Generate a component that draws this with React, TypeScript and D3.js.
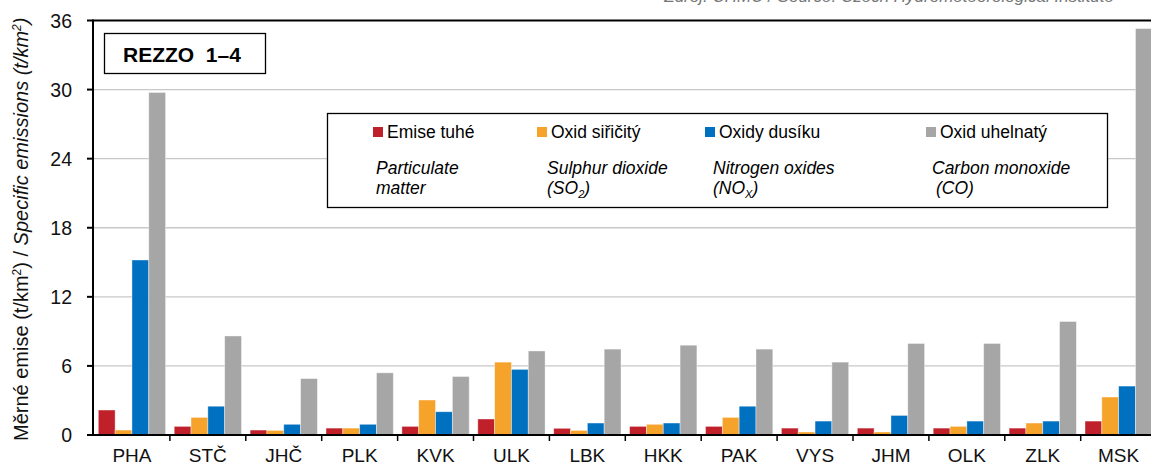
import React from 'react';
import * as d3 from 'd3';

const regions = ['PHA', 'STČ', 'JHČ', 'PLK', 'KVK', 'ULK', 'LBK', 'HKK', 'PAK', 'VYS', 'JHM', 'OLK', 'ZLK', 'MSK'];
const seriesKeys = ['tzl', 'so2', 'nox', 'co'];
const seriesNames = ['Emise tuhé', 'Oxid siřičitý', 'Oxidy dusíku', 'Oxid uhelnatý'];
const seriesColors = ['#C0202A', '#F5A32A', '#0070C0', '#A6A6A6'];

const particulate = [2.17, 0.75, 0.43, 0.6, 0.75, 1.39, 0.58, 0.75, 0.75, 0.6, 0.6, 0.6, 0.6, 1.21];
const sulphurDioxide = [0.43, 1.53, 0.4, 0.6, 3.04, 6.33, 0.4, 0.93, 1.53, 0.26, 0.26, 0.75, 1.04, 3.3];
const nitrogenOxides = [15.2, 2.5, 0.93, 0.93, 2.02, 5.7, 1.04, 1.04, 2.5, 1.21, 1.7, 1.21, 1.21, 4.25];
const carbonMonoxide = [29.75, 8.6, 4.9, 5.4, 5.08, 7.3, 7.46, 7.8, 7.46, 6.33, 7.95, 7.95, 9.86, 35.3];

const yTicks = [0, 6, 12, 18, 24, 30, 36];

const values = [particulate, sulphurDioxide, nitrogenOxides, carbonMonoxide];

const font = 'Arial, "Liberation Sans", Helvetica, sans-serif';

export default function App() {
  const left = 94;
  const bandW = 75.9;
  const x0 = d3.scaleBand().domain(regions).range([left, left + regions.length * bandW]).padding(0);
  const x1 = d3.scaleBand().domain(seriesKeys).range([4.3, bandW - 4.3]).padding(0);
  const y = d3.scaleLinear().domain([0, 36]).range([435, 20.5]);

  const legendCols = [
    { sq: 373, tx: 387, ix: 376, en: ['Particulate', 'matter'] },
    { sq: 537, tx: 551, ix: 547, en: ['Sulphur dioxide', 'SO2'] },
    { sq: 705, tx: 719, ix: 713, en: ['Nitrogen oxides', 'NOX'] },
    { sq: 926, tx: 940, ix: 932, en: ['Carbon monoxide', 'CO'] },
  ];

  return (
    <svg width={1151} height={468} style={{ position: 'absolute', left: 0, top: 0, background: '#fff' }} fontFamily={font}>
      {/* source note, cut off at the top like in the original */}
      <text x={1114} y={2} textAnchor="end" fontSize={17} fontStyle="italic" fill="#777">
        Zdroj: ČHMÚ / Source: Czech Hydrometeorological Institute
      </text>

      {/* grid */}
      {yTicks.filter((t) => t > 0 && t < 36).map((t) => (
        <line key={t} x1={left} x2={1160} y1={y(t)} y2={y(t)} stroke="#C8C8C8" strokeWidth={1.3} />
      ))}

      {/* bars */}
      {regions.map((r, i) => (
        <g key={r} transform={`translate(${x0(r)},0)`}>
          {seriesKeys.map((k, s) => (
            <rect
              key={k}
              x={x1(k)}
              y={y(values[s][i])}
              width={x1.bandwidth()}
              height={y(0) - y(values[s][i])}
              fill={seriesColors[s]}
              stroke="#ffffff"
              strokeOpacity={0.5}
              strokeWidth={0.8}
            />
          ))}
        </g>
      ))}

      {/* frame + axes */}
      <line x1={left - 1} x2={1160} y1={20.5} y2={20.5} stroke="#000" strokeWidth={2} />
      <line x1={left - 1} x2={left - 1} y1={19.5} y2={436} stroke="#000" strokeWidth={2} />
      <line x1={left - 1} x2={1160} y1={435} y2={435} stroke="#000" strokeWidth={2} />
      {yTicks.map((t) => (
        <g key={t}>
          <line x1={left - 7} x2={left - 1} y1={y(t)} y2={y(t)} stroke="#000" strokeWidth={2} />
          <text x={72} y={y(t) + 7} textAnchor="end" fontSize={19.5} fill="#111">{t}</text>
        </g>
      ))}
      {regions.map((r, i) => (
        <g key={r}>
          {i > 0 && <line x1={x0(r)} x2={x0(r)} y1={435} y2={441} stroke="#000" strokeWidth={1.5} />}
          <text x={(x0(r) as number) + bandW / 2} y={462} textAnchor="middle" fontSize={19} fill="#111">{r}</text>
        </g>
      ))}

      {/* y axis title */}
      <text transform="translate(28,441) rotate(-90)" fontSize={20} fill="#111">
        Měrné emise  (t/km<tspan dy={-7} fontSize={12}>2</tspan><tspan dy={7}>)  /  </tspan>
        <tspan fontStyle="italic">Specific emissions (t/km</tspan>
        <tspan fontStyle="italic" dy={-7} fontSize={12}>2</tspan>
        <tspan fontStyle="italic" dy={7}>)</tspan>
      </text>

      {/* title box */}
      <rect x={104.5} y={33.5} width={161} height={40} fill="#fff" stroke="#000" strokeWidth={1.3} />
      <text x={123} y={62} fontSize={21} fontWeight="bold" fill="#000" style={{ whiteSpace: 'pre' }}>REZZO  1–4</text>

      {/* legend */}
      <rect x={327.5} y={113.5} width={780} height={94} fill="#fff" stroke="#000" strokeWidth={1.3} />
      {legendCols.map((c, s) => (
        <g key={s}>
          <rect x={c.sq} y={127} width={10} height={10} fill={seriesColors[s]} />
          <text x={c.tx} y={137.5} fontSize={17.5} fill="#000">{seriesNames[s]}</text>
          <text x={c.ix} y={174} fontSize={17.5} fontStyle="italic" fill="#000">{c.en[0]}</text>
          {s === 0 && <text x={c.ix} y={194} fontSize={17.5} fontStyle="italic" fill="#000">{c.en[1]}</text>}
          {s === 1 && (
            <text x={c.ix} y={194} fontSize={17.5} fontStyle="italic" fill="#000">
              (SO<tspan dy={4} fontSize={11}>2</tspan><tspan dy={-4}>)</tspan>
            </text>
          )}
          {s === 2 && (
            <text x={c.ix} y={194} fontSize={17.5} fontStyle="italic" fill="#000">
              (NO<tspan dy={4} fontSize={11}>X</tspan><tspan dy={-4}>)</tspan>
            </text>
          )}
          {s === 3 && <text x={c.ix + 4} y={194} fontSize={17.5} fontStyle="italic" fill="#000">(CO)</text>}
        </g>
      ))}
    </svg>
  );
}
